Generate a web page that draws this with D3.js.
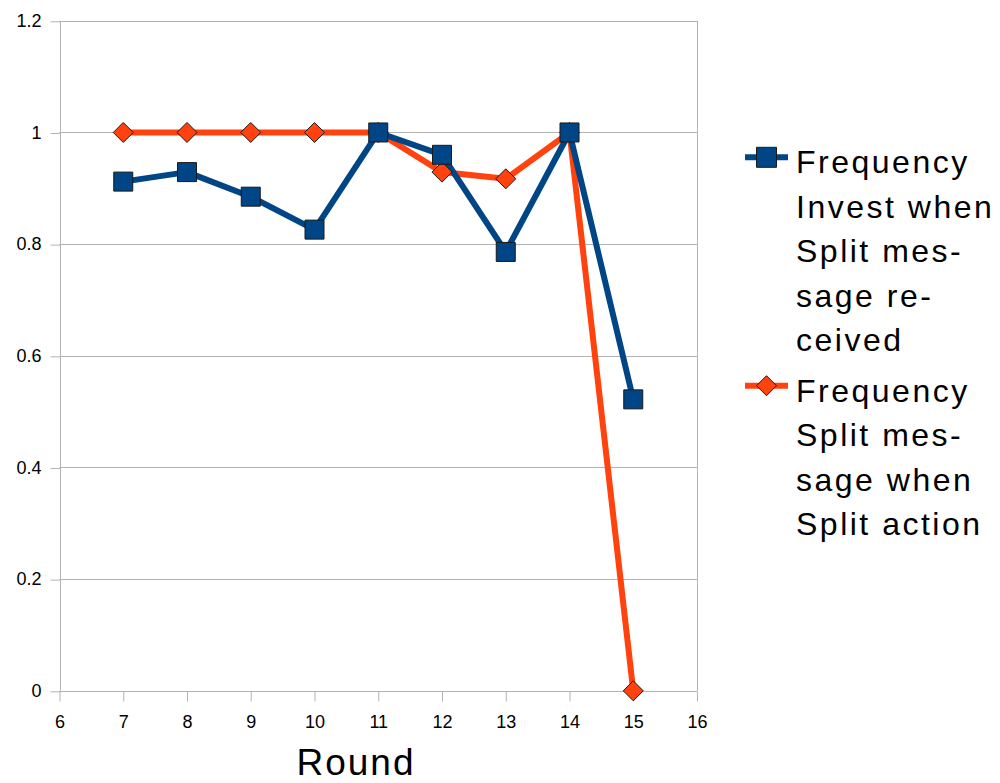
<!DOCTYPE html>
<html>
<head>
<meta charset="utf-8">
<script src="https://cdn.jsdelivr.net/npm/d3@7"></script>
<style>
html,body{margin:0;padding:0;background:#fff;}
svg{display:block;font-family:"Liberation Sans",Arial,sans-serif;}
</style>
</head>
<body>
<svg id="chart" width="1000" height="783"></svg>
<script>
const rounds = [7, 8, 9, 10, 11, 12, 13, 14, 15];
const investWhenSplitMsg = [0.912, 0.929, 0.885, 0.826, 1.0, 0.96, 0.786, 1.0, 0.522];
const splitMsgWhenSplitAction = [1.0, 1.0, 1.0, 1.0, 1.0, 0.929, 0.917, 1.0, 0.0];
const xTicks = [6, 7, 8, 9, 10, 11, 12, 13, 14, 15, 16];
const yTicks = [0, 0.2, 0.4, 0.6, 0.8, 1, 1.2];
const seriesNames = [
  ["Frequency", "Invest when", "Split mes-", "sage re-", "ceived"],
  ["Frequency", "Split mes-", "sage when", "Split action"]
];
const colors = ["#004586", "#ff420e"];

const svg = d3.select("#chart");
const x = d3.scaleLinear().domain([6, 16]).range([59.5, 697]);
const y = d3.scaleLinear().domain([0, 1.2]).range([690.8, 20.8]);
const grid = "#b3b3b3";

svg.append("g").selectAll("line").data(yTicks).join("line")
  .attr("x1", x(6)).attr("x2", x(16))
  .attr("y1", d => Math.round(y(d)) + 0.5).attr("y2", d => Math.round(y(d)) + 0.5)
  .attr("stroke", grid).attr("stroke-width", 1);

svg.append("line").attr("x1", Math.round(x(16)) + 0.5).attr("x2", Math.round(x(16)) + 0.5)
  .attr("y1", y(1.2)).attr("y2", y(0)).attr("stroke", grid);

const yAxis = d3.axisLeft(y).tickValues(yTicks).tickSize(10).tickPadding(9)
  .tickFormat(d => d3.format("")(d));
const gy = svg.append("g").attr("transform", `translate(${Math.round(x(6)) + 0.5},0)`).call(yAxis);
gy.selectAll("line").attr("stroke", grid).attr("transform", "translate(0,0.5)");
gy.select(".domain").attr("stroke", grid).attr("d", `M0,${y(1.2)}V${y(0)}`);
gy.selectAll("text").attr("font-size", 18).attr("fill", "#000")
  .attr("font-family", "Liberation Sans, Arial, sans-serif");

const xAxis = d3.axisBottom(x).tickValues(xTicks).tickSize(10).tickPadding(14)
  .tickFormat(d3.format("d"));
const gx = svg.append("g").attr("transform", `translate(0,${Math.round(y(0)) + 0.5})`).call(xAxis);
gx.selectAll("line").attr("stroke", grid);
gx.select(".domain").attr("stroke", grid).attr("d", `M${x(6)},0H${x(16)}`);
gx.selectAll("text").attr("font-size", 18).attr("fill", "#000")
  .attr("font-family", "Liberation Sans, Arial, sans-serif");

svg.append("text").attr("x", 356).attr("y", 775).attr("text-anchor", "middle")
  .attr("font-size", 37).attr("letter-spacing", 2).attr("fill", "#000").text("Round");

const seriesData = [investWhenSplitMsg, splitMsgWhenSplitAction];
const line = d3.line().x((d, i) => x(rounds[i])).y(d => y(d));

const order = [1, 0];
const squareSym = d3.symbol().type(d3.symbolSquare).size(19 * 19);
const diamondPath = s => `M0,${-s}L${s},0L0,${s}L${-s},0Z`;

order.forEach(si => {
  svg.append("path").datum(seriesData[si]).attr("d", line)
    .attr("fill", "none").attr("stroke", colors[si]).attr("stroke-width", 6)
    .attr("stroke-linejoin", "round");
});
order.forEach(si => {
  const g = svg.append("g");
  g.selectAll("path").data(seriesData[si]).join("path")
    .attr("transform", (d, i) => `translate(${x(rounds[i])},${y(d)})`)
    .attr("d", si === 0 ? squareSym() : diamondPath(10))
    .attr("fill", colors[si]).attr("stroke", "#1a1a1a").attr("stroke-width", 1);
});

const legendTop = [173.3, 401.7];
const lineH = 44.4;
seriesNames.forEach((lines, si) => {
  const g = svg.append("g");
  const cy = legendTop[si] - 16;
  g.append("line").attr("x1", 745).attr("x2", 788).attr("y1", cy).attr("y2", cy)
    .attr("stroke", colors[si]).attr("stroke-width", 6);
  g.append("path").attr("transform", `translate(766.5,${cy})`)
    .attr("d", si === 0 ? d3.symbol().type(d3.symbolSquare).size(20 * 20)() : diamondPath(10))
    .attr("fill", colors[si]).attr("stroke", "#1a1a1a").attr("stroke-width", 1);
  const t = g.append("text").attr("x", 796).attr("y", legendTop[si])
    .attr("font-size", 32).attr("letter-spacing", 2.5).attr("fill", "#000");
  lines.forEach((s, k) => {
    t.append("tspan").attr("x", 796).attr("y", legendTop[si] + k * lineH).text(s);
  });
});
</script>
</body>
</html>
